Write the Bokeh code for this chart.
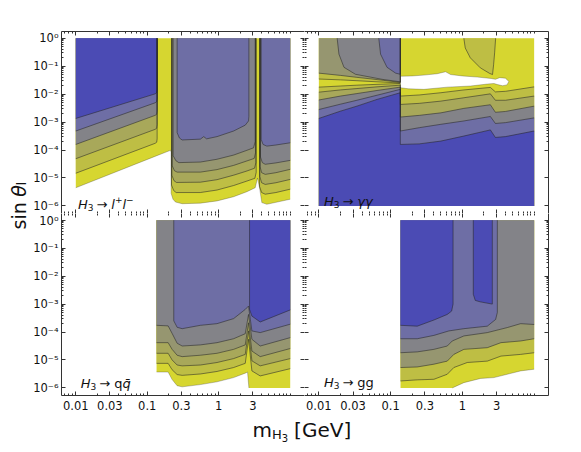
import numpy as np
from bokeh.plotting import figure
from bokeh.layouts import row, column
from bokeh.models import FixedTicker, LinearAxis, Label, Range1d, CustomJSTickFormatter
from bokeh.embed import file_html
from bokeh.resources import INLINE

# ------------------------------------------------------------------
# Axis ticks (x: m_H3 in GeV, y: sin(theta_l)); coordinates are log10
# ------------------------------------------------------------------
X_TICK_VALUES = [0.01, 0.03, 0.1, 0.3, 1.0, 3.0]
X_TICK_LABELS = ["0.01", "0.03", "0.1", "0.3", "1", "3"]
Y_TICK_EXPONENTS = [0, -1, -2, -3, -4, -5, -6]
Y_TICK_LABELS = ["10⁰", "10⁻¹", "10⁻²", "10⁻³", "10⁻⁴", "10⁻⁵", "10⁻⁶"]

# contour level colours (0 = weakest / yellow ... 6 = strongest / blue)
LEVEL_COLORS = ["#d6d630", "#bebe44", "#a8a85a", "#969670", "#838388", "#6e6ea5", "#4b4bb4"]
HOLE_COLOR = "#ffffff"

# ------------------------------------------------------------------
# Contour boundaries: log10(m/GeV), log10(sin)
# ------------------------------------------------------------------
# ---- panel 1 : H3 -> l+ l- ----
LL_0_LM = [-2.0, -0.875, -0.675, -0.666, -0.666, -0.64, -0.605, -0.512, -0.257, -0.024, 0.208, 0.394, 0.51, 0.543, 0.571, 0.603, 0.673, 1.0]
LL_0_LS = [-5.35, -4.21, -4.01, -4.08, -5.55, -5.76, -5.86, -5.92, -5.90, -5.82, -5.67, -5.49, -5.35, -5.0, -5.35, -5.88, -5.94, -5.76]
LL_A1_LM = [-2.0, -0.89, -0.868, -0.862, -0.862]
LL_A1_LS = [-4.83, -3.76, -3.72, -3.6, 0.0]
LL_A2_LM = [-2.0, -0.89, -0.868, -0.862, -0.862]
LL_A2_LS = [-4.31, -3.26, -3.22, -3.1, 0.0]
LL_A4_LM = [-2.0, -0.89, -0.868, -0.862, -0.862]
LL_A4_LS = [-3.80, -2.76, -2.72, -2.6, 0.0]
LL_A5_LM = [-2.0, -0.89, -0.868, -0.862, -0.862]
LL_A5_LS = [-3.32, -2.31, -2.27, -2.15, 0.0]
LL_A6_LM = [-2.0, -0.89, -0.868, -0.862, -0.862]
LL_A6_LS = [-2.87, -1.99, -1.95, -1.85, 0.0]
LL_B1_LM = [-0.661, -0.661, -0.63, -0.596, -0.257, -0.024, 0.208, 0.394, 0.506, 0.524, 0.524]
LL_B1_LS = [0.0, -5.25, -5.45, -5.52, -5.52, -5.43, -5.27, -5.11, -5.01, -4.8, 0.0]
LL_B2_LM = [-0.656, -0.656, -0.625, -0.591, -0.257, -0.024, 0.208, 0.394, 0.501, 0.52, 0.52]
LL_B2_LS = [0.0, -4.9, -5.1, -5.16, -5.15, -5.06, -4.90, -4.75, -4.65, -4.45, 0.0]
LL_B3_LM = [-0.652, -0.652, -0.62, -0.582, -0.257, -0.024, 0.208, 0.394, 0.496, 0.515, 0.515]
LL_B3_LS = [0.0, -4.55, -4.74, -4.79, -4.79, -4.70, -4.55, -4.39, -4.30, -4.1, 0.0]
LL_B4_LM = [-0.638, -0.638, -0.60, -0.559, -0.257, -0.024, 0.208, 0.394, 0.487, 0.51, 0.51]
LL_B4_LS = [0.0, -4.2, -4.38, -4.45, -4.43, -4.33, -4.18, -4.01, -3.92, -3.7, 0.0]
LL_B5_LM = [-0.582, -0.582, -0.55, -0.512, -0.257, -0.21, -0.17, -0.024, 0.208, 0.371, 0.417, 0.422, 0.422]
LL_B5_LS = [0.0, -3.38, -3.57, -3.64, -3.61, -3.52, -3.6, -3.52, -3.32, -3.11, -2.96, -2.8, 0.0]
LL_C1_LM = [0.571, 0.571, 0.6, 0.65, 0.8, 1.0]
LL_C1_LS = [0.0, -5.3, -5.52, -5.58, -5.52, -5.40]
LL_C2_LM = [0.575, 0.575, 0.6, 0.65, 0.8, 1.0]
LL_C2_LS = [0.0, -4.95, -5.17, -5.23, -5.17, -5.05]
LL_C3_LM = [0.579, 0.579, 0.6, 0.65, 0.8, 1.0]
LL_C3_LS = [0.0, -4.6, -4.81, -4.87, -4.81, -4.69]
LL_C4_LM = [0.584, 0.584, 0.61, 0.65, 0.8, 1.0]
LL_C4_LS = [0.0, -4.25, -4.45, -4.51, -4.46, -4.37]
LL_C5_LM = [0.594, 0.594, 0.62, 0.673, 0.8, 1.0]
LL_C5_LS = [0.0, -3.62, -3.8, -3.86, -3.82, -3.74]

# ---- panel 2 : H3 -> gamma gamma ----
GA_HOLE_LM = [-0.865, -0.70, -0.536, -0.35, -0.234, -0.164, 0.0, 0.208, 0.40, 0.46, 0.52, 0.60, 0.648, 0.62, 0.56, 0.49, 0.44, 0.347, 0.114, -0.21, -0.536, -0.75, -0.865]
GA_HOLE_LS = [-1.36, -1.35, -1.32, -1.27, -1.20, -1.30, -1.35, -1.39, -1.44, -1.47, -1.41, -1.43, -1.55, -1.67, -1.70, -1.66, -1.62, -1.64, -1.71, -1.75, -1.83, -1.81, -1.77]
GA_BLOB_LM = [0.02, 0.04, 0.11, 0.25, 0.38, 0.42, 0.435, 0.45, 0.463]
GA_BLOB_LS = [0.0, -0.35, -0.70, -1.06, -1.26, -1.30, -0.95, -0.5, 0.0]
GA_LOW_LM = [-2.0, -1.70, -1.47, -1.19, -0.865, -0.865, -0.6, -0.3, 0.02, 0.39, 0.46, 0.6, 1.0]
GA_L1_LS = [-1.75, -1.71, -1.68, -1.65, -1.62, -2.07, -2.03, -1.95, -1.85, -1.76, -1.92, -1.90, -1.74]
GA_L2_LS = [-1.93, -1.85, -1.80, -1.74, -1.68, -2.37, -2.33, -2.25, -2.13, -1.99, -2.22, -2.22, -2.07]
GA_L4_LS = [-2.21, -2.07, -1.98, -1.87, -1.75, -2.82, -2.76, -2.67, -2.51, -2.38, -2.65, -2.62, -2.43]
GA_L5_LS = [-2.55, -2.36, -2.22, -2.04, -1.83, -3.32, -3.20, -3.08, -2.96, -2.80, -3.05, -3.02, -2.85]
GA_L6_LS = [-2.87, -2.61, -2.43, -2.19, -1.95, -3.80, -3.78, -3.68, -3.50, -3.28, -3.55, -3.52, -3.32]
GA_UP_LM = [-2.0, -1.70, -1.47, -1.19, -0.865, -0.865]
GA_U1_LS = [-1.46, -1.49, -1.52, -1.56, -1.60, 0.0]
GA_U3_LS = [-1.25, -1.33, -1.40, -1.48, -1.58, 0.0]
GA_U4_LM = [-1.745, -1.72, -1.65, -1.49, -1.12, -0.865, -0.865]
GA_U4_LS = [0.0, -0.57, -1.04, -1.29, -1.47, -1.56, 0.0]
GA_U5_LM = [-1.165, -1.14, -1.05, -0.93, -0.865, -0.865]
GA_U5_LS = [0.0, -0.57, -1.04, -1.25, -1.29, 0.0]

# ---- panel 3 : H3 -> q qbar ----
QQ_0_LM = [-0.87, -0.708, -0.652, -0.582, -0.512, -0.257, -0.024, 0.208, 0.371, 0.403, 0.422]
QQ_0_LS = [-5.43, -5.43, -5.70, -5.92, -5.96, -5.88, -5.78, -5.63, -5.47, -5.43, -6.0]
QQ_LM = [-0.87, -0.708, -0.652, -0.582, -0.512, -0.257, -0.024, 0.208, 0.371, 0.417, 0.464, 0.58, 1.0]
QQ_1_LS = [-5.12, -5.12, -5.35, -5.52, -5.55, -5.50, -5.41, -5.27, -5.12, -4.26, -5.39, -5.57, -5.31]
QQ_2_LS = [-4.76, -4.76, -5.0, -5.18, -5.21, -5.18, -5.09, -4.95, -4.80, -3.96, -5.03, -5.21, -4.95]
QQ_3_LS = [-4.38, -4.38, -4.62, -4.83, -4.88, -4.83, -4.76, -4.62, -4.46, -3.67, -4.68, -4.88, -4.59]
QQ_4_LS = [-3.76, -3.78, -4.05, -4.40, -4.50, -4.46, -4.38, -4.24, -4.06, -3.37, -4.26, -4.50, -4.20]
QQ_5_LM = [-0.629, -0.629, -0.582, -0.512, -0.257, -0.024, 0.208, 0.371, 0.417, 0.464, 0.58, 1.0]
QQ_5_LS = [0.0, -3.6, -3.83, -3.88, -3.76, -3.70, -3.52, -3.19, -3.07, -3.96, -4.02, -3.72]
QQ_6_LM = [0.431, 0.431, 0.464, 0.58, 1.0]
QQ_6_LS = [0.0, -3.19, -3.43, -3.64, -3.21]

# ---- panel 4 : H3 -> g g ----
GG_0_LM = [-0.141, 0.021, 0.254, 0.439, 0.626, 0.812, 1.0]
GG_0_LS = [-6.0, -5.81, -5.66, -5.63, -5.51, -5.39, -5.33]
GG_1_LM = [-0.862, -0.629, -0.397, -0.211, -0.119, 0.068, 0.347, 0.538, 0.812, 1.0]
GG_1_LS = [-5.75, -5.71, -5.69, -5.51, -5.27, -5.09, -5.04, -4.86, -4.80, -4.74]
GG_3_LM = [-0.862, -0.629, -0.397, -0.211, -0.119, 0.021, 0.347, 0.538, 0.812, 1.0]
GG_3_LS = [-5.27, -5.25, -5.15, -5.04, -4.80, -4.62, -4.56, -4.38, -4.32, -4.24]
GG_4_LM = [-0.862, -0.629, -0.397, -0.211, -0.141, 0.021, 0.347, 0.626, 0.812, 1.0]
GG_4_LS = [-4.74, -4.71, -4.62, -4.50, -4.32, -4.14, -4.02, -3.84, -3.70, -3.73]
GG_5_LM = [-0.862, -0.629, -0.397, -0.188, 0.021, 0.347, 0.463, 0.487, 0.487]
GG_5_LS = [-4.24, -4.24, -4.12, -3.96, -3.88, -3.79, -3.55, -3.3, 0.0]
GG_6A_LM = [-0.862, -0.629, -0.397, -0.211, -0.15, -0.13, -0.13]
GG_6A_LS = [-3.76, -3.79, -3.57, -3.37, -3.25, -3.0, 0.0]
GG_6B_LM = [0.152, 0.152, 0.18, 0.25, 0.417, 0.417]
GG_6B_LS = [0.0, -2.65, -2.87, -2.92, -3.0, 0.0]

# data domains (log10 m min, max, log10 sin min, max)
DOMAIN_TOP = (-2.0, 1.0, -6.0, 0.0)
DOMAIN_QQ = (-0.87, 1.0, -6.0, 0.0)
DOMAIN_GG = (-0.862, 1.0, -6.0, 0.0)

# (level, lm, ls, closing corners) in drawing order; level -1 = excluded hole
PANEL_LL = [
    (0, LL_0_LM, LL_0_LS, ["tr", "tl"]),
    (1, LL_A1_LM, LL_A1_LS, ["tl"]), (1, LL_B1_LM, LL_B1_LS, []), (1, LL_C1_LM, LL_C1_LS, ["tr"]),
    (2, LL_A2_LM, LL_A2_LS, ["tl"]), (2, LL_B2_LM, LL_B2_LS, []), (2, LL_C2_LM, LL_C2_LS, ["tr"]),
    (3, LL_B3_LM, LL_B3_LS, []), (3, LL_C3_LM, LL_C3_LS, ["tr"]),
    (4, LL_A4_LM, LL_A4_LS, ["tl"]), (4, LL_B4_LM, LL_B4_LS, []), (4, LL_C4_LM, LL_C4_LS, ["tr"]),
    (5, LL_A5_LM, LL_A5_LS, ["tl"]), (5, LL_B5_LM, LL_B5_LS, []), (5, LL_C5_LM, LL_C5_LS, ["tr"]),
    (6, LL_A6_LM, LL_A6_LS, ["tl"]),
]
PANEL_GA = [
    (0, [], [], ["bl", "br", "tr", "tl"]),
    (-1, GA_HOLE_LM, GA_HOLE_LS, []),
    (1, GA_BLOB_LM, GA_BLOB_LS, []),
    (1, GA_LOW_LM, GA_L1_LS, ["br", "bl"]),
    (2, GA_LOW_LM, GA_L2_LS, ["br", "bl"]),
    (4, GA_LOW_LM, GA_L4_LS, ["br", "bl"]),
    (5, GA_LOW_LM, GA_L5_LS, ["br", "bl"]),
    (6, GA_LOW_LM, GA_L6_LS, ["br", "bl"]),
    (1, GA_UP_LM, GA_U1_LS, ["tl"]),
    (3, GA_UP_LM, GA_U3_LS, ["tl"]),
    (4, GA_U4_LM, GA_U4_LS, []),
    (5, GA_U5_LM, GA_U5_LS, []),
]
PANEL_QQ = [
    (0, QQ_0_LM, QQ_0_LS, ["br", "tr", "tl"]),
    (1, QQ_LM, QQ_1_LS, ["tr", "tl"]),
    (2, QQ_LM, QQ_2_LS, ["tr", "tl"]),
    (3, QQ_LM, QQ_3_LS, ["tr", "tl"]),
    (4, QQ_LM, QQ_4_LS, ["tr", "tl"]),
    (5, QQ_5_LM, QQ_5_LS, ["tr"]),
    (6, QQ_6_LM, QQ_6_LS, ["tr"]),
]
PANEL_GG = [
    (0, GG_0_LM, GG_0_LS, ["tr", "tl", "bl"]),
    (1, GG_1_LM, GG_1_LS, ["tr", "tl"]),
    (3, GG_3_LM, GG_3_LS, ["tr", "tl"]),
    (4, GG_4_LM, GG_4_LS, ["tr", "tl"]),
    (5, GG_5_LM, GG_5_LS, ["tl"]),
    (6, GG_6A_LM, GG_6A_LS, ["tl"]),
    (6, GG_6B_LM, GG_6B_LS, []),
]

# ------------------------------------------------------------------
# styling
# ------------------------------------------------------------------
FONT = "DejaVu Sans"
FRAME_COLOR = "#333333"
X_RANGE = (-2.2, 1.2)
Y_RANGE = (-6.27, 0.24)
CHAR_EM = {"H": 0.752, "3": 0.636, " ": 0.318, "→": 0.838, "l": 0.278, "+": 0.838, "−": 0.838,
           "γ": 0.592, "q": 0.635, "g": 0.635, "m": 0.974, "[": 0.39, "]": 0.39, "G": 0.775,
           "e": 0.615, "V": 0.684, "s": 0.521, "i": 0.278, "n": 0.634, "θ": 0.612, "\u0304": 0.0}


def text_width(s, size):
    return sum(CHAR_EM.get(ch, 0.6) for ch in s) * size


def corner(name, dom):
    m0, m1, s0, s1 = dom
    return {"tl": (m0, s1), "tr": (m1, s1), "bl": (m0, s0), "br": (m1, s0)}[name]


def log_minor(lo, hi, majors):
    out = []
    for d in range(-4, 3):
        for k in range(1, 10):
            v = np.log10(k) + d
            if lo <= v <= hi and not any(abs(v - mj) < 1e-9 for mj in majors):
                out.append(float(v))
    return out


X_MAJOR = [float(np.log10(v)) for v in X_TICK_VALUES]
X_MINOR = log_minor(X_RANGE[0], X_RANGE[1], X_MAJOR)
Y_MAJOR = [float(e) for e in Y_TICK_EXPONENTS]
Y_MINOR = log_minor(Y_RANGE[0], Y_RANGE[1], Y_MAJOR)
BLANK = CustomJSTickFormatter(code="return '';")


def add_axis(p, loc, labelled, draw_line=True):
    is_x = loc in ("above", "below")
    ax = LinearAxis(ticker=FixedTicker(ticks=X_MAJOR if is_x else Y_MAJOR,
                                       minor_ticks=X_MINOR if is_x else Y_MINOR))
    ax.major_tick_in = 4
    ax.major_tick_out = 0
    ax.minor_tick_in = 2
    ax.minor_tick_out = 0
    ax.axis_line_color = FRAME_COLOR if draw_line else None
    ax.major_tick_line_color = FRAME_COLOR
    ax.minor_tick_line_color = FRAME_COLOR
    if labelled:
        labels = X_TICK_LABELS if is_x else Y_TICK_LABELS
        ticks = X_MAJOR if is_x else Y_MAJOR
        ax.major_label_overrides = {t: s for t, s in zip(ticks, labels)}
        ax.major_label_text_font = FONT
        ax.major_label_text_font_size = "11.5px"
        ax.major_label_text_color = "#111111"
        ax.major_label_standoff = 5 if is_x else 3
    else:
        ax.formatter = BLANK
        ax.major_label_text_font_size = "0px"
        ax.major_label_standoff = 0
    p.add_layout(ax, loc)


def add_pieces(p, x, y, pieces):
    """pieces: (text, size px, italic, baseline shift px, extra gap after px)"""
    off = 0.0
    for txt, size, italic, dy, gap in pieces:
        p.add_layout(Label(x=x, y=y, x_offset=off, y_offset=dy, text=txt, text_font=FONT,
                           text_font_size=f"{size}px", text_color="#111111",
                           text_font_style="italic" if italic else "normal",
                           text_baseline="alphabetic", text_align="left"))
        off += text_width(txt, size) + gap


def make_panel(width, height, borders, contours, dom, xlab, ylab, left_line, top_line, title):
    p = figure(width=width, height=height, x_range=Range1d(*X_RANGE), y_range=Range1d(*Y_RANGE),
               output_backend="svg", toolbar_location=None,
               x_axis_location=None, y_axis_location=None,
               min_border_left=borders[0], min_border_right=borders[1],
               min_border_top=borders[2], min_border_bottom=borders[3])
    p.outline_line_color = None
    p.grid.visible = False
    p.background_fill_color = "white"
    p.border_fill_color = "white"

    fx, fy, fc, lx, ly, la = [], [], [], [], [], []
    for level, lm, ls, close in contours:
        xs = list(lm) + [corner(c, dom)[0] for c in close]
        ys = list(ls) + [corner(c, dom)[1] for c in close]
        fx.append(xs)
        fy.append(ys)
        fc.append(HOLE_COLOR if level < 0 else LEVEL_COLORS[level])
        if len(lm) > 1:
            lx.append(list(lm))
            ly.append(list(ls))
            la.append(0.3 if level <= 0 else 0.6)
    p.patches(fx, fy, fill_color=fc, line_color=None, fill_alpha=1.0)
    p.multi_line(lx, ly, line_color="#262626", line_alpha=la, line_width=0.9)

    add_axis(p, "left", ylab, draw_line=left_line)
    add_axis(p, "right", False)
    add_axis(p, "above", False, draw_line=top_line)
    add_axis(p, "below", xlab)
    add_pieces(p, title[0], title[1], title[2])
    return p


T_LL = [("H", 13, True, 0, 0), ("3", 9, False, -3, 3), ("→", 13, False, 0, 4), ("l", 13, True, 0, 0),
        ("+", 9, False, 5, 0), ("l", 13, True, 0, 0), ("−", 9, False, 5, 0)]
T_GA = [("H", 13, True, 0, 0), ("3", 9, False, -3, 3), ("→", 13, False, 0, 4), ("γγ", 13, True, 0, 0)]
T_QQ = [("H", 13, True, 0, 0), ("3", 9, False, -3, 3), ("→", 13, False, 0, 4), ("q", 13, False, 0, 0),
        ("q\u0304", 13, True, 0, 0)]
T_GG = [("H", 13, True, 0, 0), ("3", 9, False, -3, 3), ("→", 13, False, 0, 4), ("gg", 13, False, 0, 0)]

p1 = make_panel(274, 213, (30, 0, 31, 0), PANEL_LL, DOMAIN_TOP, False, True, True, True, (-1.97, -5.95, T_LL))
p2 = make_panel(246, 213, (0, 2, 31, 0), PANEL_GA, DOMAIN_TOP, False, False, False, True, (-1.93, -5.85, T_GA))
p3 = make_panel(274, 204, (30, 0, 0, 22), PANEL_QQ, DOMAIN_QQ, True, True, True, False, (-1.93, -5.84, T_QQ))
p4 = make_panel(246, 204, (0, 2, 0, 22), PANEL_GG, DOMAIN_GG, True, False, False, False, (-1.93, -5.81, T_GG))

# y-axis title column (coordinates = pixels, y upwards)
YLAB_W, YLAB_H = 30, 417
ylab = figure(width=YLAB_W, height=YLAB_H, x_range=Range1d(0, YLAB_W), y_range=Range1d(0, YLAB_H),
              output_backend="svg", toolbar_location=None, x_axis_location=None, y_axis_location=None,
              min_border=0)
ylab.outline_line_color = None
ylab.grid.visible = False
y0 = 188.0
for txt, size, italic, bx, gap in [("sin", 19, False, 18, 5.5), ("θ", 19, True, 18, 0), ("l", 12, False, 21, 0)]:
    ylab.add_layout(Label(x=bx, y=y0, text=txt, angle=np.pi / 2, text_font=FONT,
                          text_font_size=f"{size}px", text_color="#111111",
                          text_font_style="italic" if italic else "normal",
                          text_baseline="alphabetic", text_align="left"))
    y0 += text_width(txt, size) + gap

# x-axis title row (coordinates = pixels, y upwards)
XLAB_W, XLAB_H = 550, 33
xlab = figure(width=XLAB_W, height=XLAB_H, x_range=Range1d(0, XLAB_W), y_range=Range1d(0, XLAB_H),
              output_backend="svg", toolbar_location=None, x_axis_location=None, y_axis_location=None,
              min_border=0)
xlab.outline_line_color = None
xlab.grid.visible = False
add_pieces(xlab, 252, 21, [("m", 20, False, 0, 0), ("H", 13, False, -5, 0), ("3", 10, False, -8, 6),
                           ("[GeV]", 20, False, 0, 0)])

layout = column(row(ylab, column(row(p1, p2), row(p3, p4))), xlab)
open("out.html", "w").write(file_html(layout, INLINE))
